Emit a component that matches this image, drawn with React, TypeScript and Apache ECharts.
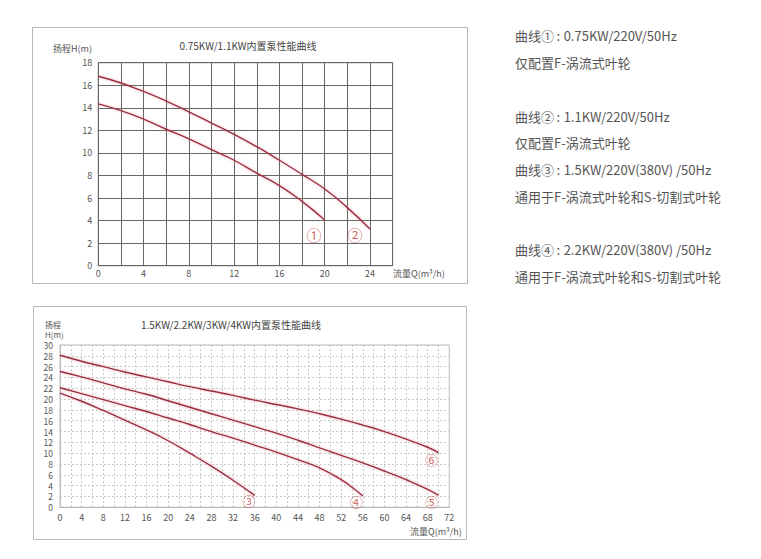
import React, { useEffect, useRef } from 'react';
import * as echarts from 'echarts';

// Chart 1 (0.75KW / 1.1KW)
const flow1 = [0, 2, 4, 6, 8, 10, 12, 14, 16, 18, 20];
const head1 = [14.35, 13.75, 13.0, 12.1, 11.25, 10.3, 9.35, 8.2, 7.1, 5.7, 4.05];
const flow2 = [0, 2, 4, 6, 8, 10, 12, 14, 16, 18, 20, 22, 24];
const head2 = [16.8, 16.2, 15.45, 14.6, 13.65, 12.65, 11.65, 10.55, 9.35, 8.1, 6.8, 5.15, 3.25];
const marks1 = [
  { name: '①', q: 19.05, h: 2.78 },
  { name: '②', q: 22.67, h: 2.78 },
];

// Chart 2 (1.5KW / 2.2KW / 3KW / 4KW)
const flow3 = [0, 4, 8, 12, 16, 20, 24, 28, 32, 36];
const head3 = [21.1, 19.6, 17.9, 16.1, 14.3, 12.3, 10.0, 7.6, 5.0, 2.2];
const flow4 = [0, 4, 8, 12, 16, 20, 24, 28, 32, 36, 40, 44, 48, 52, 54, 56];
const head4 = [22.1, 21.0, 19.9, 18.8, 17.7, 16.5, 15.3, 14.0, 12.8, 11.5, 10.2, 8.8, 7.3, 5.1, 3.7, 2.1];
const flow5 = [0, 4, 8, 12, 16, 20, 24, 28, 32, 36, 40, 44, 48, 52, 56, 60, 64, 68, 70];
const head5 = [25.1, 24.1, 23.0, 21.9, 20.9, 19.7, 18.5, 17.3, 16.1, 14.9, 13.7, 12.4, 11.0, 9.6, 8.2, 6.7, 5.1, 3.3, 2.2];
const flow6 = [0, 4, 8, 12, 16, 20, 24, 28, 32, 36, 40, 44, 48, 52, 56, 60, 64, 68, 70];
const head6 = [28.1, 27.0, 26.0, 25.0, 24.1, 23.2, 22.3, 21.5, 20.7, 19.8, 19.0, 18.2, 17.3, 16.3, 15.2, 14.0, 12.6, 11.1, 10.1];
const marks2 = [
  { name: '③', q: 34.9, h: 1.2 },
  { name: '④', q: 54.8, h: 1.0 },
  { name: '⑤', q: 68.7, h: 1.0 },
  { name: '⑥', q: 68.7, h: 8.9 },
];

// Tick settings
const xMax1 = 26, yMax1 = 18, step1 = 2;
const xMax2 = 72, yMax2 = 30, step2 = 2;

const title1 = '0.75KW/1.1KW内置泵性能曲线';
const title2 = '1.5KW/2.2KW/3KW/4KW内置泵性能曲线';
const C = '\u2009:\u2009\u200a';
const notes = [
  `曲线①${C}0.75KW/220V/50Hz`,
  '仅配置F-涡流式叶轮',
  `曲线②${C}1.1KW/220V/50Hz`,
  '仅配置F-涡流式叶轮',
  `曲线③${C}1.5KW/220V(380V) /50Hz`,
  '通用于F-涡流式叶轮和S-切割式叶轮',
  `曲线④${C}2.2KW/220V(380V) /50Hz`,
  '通用于F-涡流式叶轮和S-切割式叶轮',
];
const noteY = [35.7, 62.3, 116.7, 142.7, 169.3, 196, 249.3, 276];

const FONT = '"Noto Sans CJK SC", "Noto Sans", sans-serif';
const CURVE = '#9a2e40';
const MARK = '#c8413b';

function zip(xs: number[], ys: number[]) {
  return xs.map((x, i) => [x, ys[i]]);
}

function curve(xs: number[], ys: number[], idx: number) {
  return {
    type: 'line',
    xAxisIndex: idx,
    yAxisIndex: idx,
    data: zip(xs, ys),
    smooth: true,
    symbol: 'none',
    lineStyle: {
      color: CURVE,
      width: 1.4,
      shadowColor: 'rgba(225,110,130,0.55)',
      shadowBlur: 3,
    },
    z: 5,
  };
}

function markSeries(marks: { name: string; q: number; h: number }[], idx: number, size: number) {
  return {
    type: 'scatter',
    xAxisIndex: idx,
    yAxisIndex: idx,
    symbolSize: 2,
    itemStyle: { color: 'rgba(0,0,0,0)' },
    data: marks.map((m) => ({ name: m.name, value: [m.q, m.h] })),
    label: {
      show: true,
      position: 'inside',
      formatter: (p: any) => p.name,
      color: MARK,
      fontSize: size,
      fontFamily: FONT,
    },
    z: 6,
  };
}

export default function App() {
  const ref = useRef<HTMLDivElement>(null);

  useEffect(() => {
    if (!ref.current) return;
    const chart = echarts.init(ref.current, undefined, { renderer: 'svg' });

    const labelStyle = { color: '#555', fontSize: 9, fontFamily: FONT, lineHeight: 9 };
    const labelStyle2 = { color: '#555', fontSize: 8.5, fontFamily: FONT, lineHeight: 8 };

    const option: any = {
      animation: false,
      backgroundColor: '#fff',
      grid: [
        {
          left: 98.3, top: 62.7, width: 294.3, height: 203,
          show: true, borderColor: '#666', borderWidth: 1,
        },
        {
          left: 60, top: 345, width: 389.3, height: 162.3,
          show: true, borderColor: '#bdbdbd', borderWidth: 1,
        },
      ],
      xAxis: [
        {
          type: 'value', gridIndex: 0, min: 0, max: xMax1, interval: step1,
          axisLine: { show: true, lineStyle: { color: '#666', width: 1 } },
          axisTick: { show: false },
          splitLine: { show: true, lineStyle: { color: '#666', width: 1 } },
          axisLabel: {
            ...labelStyle, margin: 3,
            formatter: (v: number) => (v % 4 === 0 && v <= 24 ? String(v) : ''),
          },
        },
        {
          type: 'value', gridIndex: 1, min: 0, max: xMax2, interval: step2,
          axisLine: { show: true, lineStyle: { color: '#b0b0b0', width: 1 } },
          axisTick: { show: false },
          splitLine: { show: true, lineStyle: { color: '#c9c9c9', width: 1, type: [2, 2] } },
          axisLabel: {
            ...labelStyle, margin: 6,
            formatter: (v: number) => (v % 4 === 0 ? String(v) : ''),
          },
        },
      ],
      yAxis: [
        {
          type: 'value', gridIndex: 0, min: 0, max: yMax1, interval: step1,
          axisLine: { show: true, lineStyle: { color: '#666', width: 1 } },
          axisTick: { show: false },
          splitLine: { show: true, lineStyle: { color: '#666', width: 1 } },
          axisLabel: { ...labelStyle, margin: 6 },
        },
        {
          type: 'value', gridIndex: 1, min: 0, max: yMax2, interval: step2,
          axisLine: { show: true, lineStyle: { color: '#c0c0c0', width: 1 } },
          axisTick: { show: false },
          splitLine: { show: true, lineStyle: { color: '#c9c9c9', width: 1, type: [2, 2] } },
          axisLabel: { ...labelStyle2, margin: 7 },
        },
      ],
      series: [
        curve(flow1, head1, 0),
        curve(flow2, head2, 0),
        markSeries(marks1, 0, 15),
        curve(flow3, head3, 1),
        curve(flow4, head4, 1),
        curve(flow5, head5, 1),
        curve(flow6, head6, 1),
        markSeries(marks2, 1, 13),
      ],
      graphic: [
        {
          type: 'rect', shape: { x: 32.5, y: 27.5, width: 435, height: 256 },
          style: { fill: 'none', stroke: '#b8b8b8', lineWidth: 1 }, z: -1,
        },
        {
          type: 'rect', shape: { x: 33.5, y: 306.5, width: 433, height: 233 },
          style: { fill: 'none', stroke: '#b8b8b8', lineWidth: 1 }, z: -1,
        },
        {
          type: 'text', x: 248, y: 45.7,
          style: { text: title1, fill: '#444', font: `10px ${FONT}`, textAlign: 'center', textVerticalAlign: 'middle' },
        },
        {
          type: 'text', x: 231, y: 324,
          style: { text: title2, fill: '#444', font: `10px ${FONT}`, textAlign: 'center', textVerticalAlign: 'middle' },
        },
        {
          type: 'text', x: 53, y: 48,
          style: { text: '扬程H(m)', fill: '#555', font: `9px ${FONT}`, textVerticalAlign: 'middle' },
        },
        {
          type: 'text', x: 393, y: 273,
          style: { text: '流量Q(m³/h)', fill: '#555', font: `9px ${FONT}`, textVerticalAlign: 'middle' },
        },
        {
          type: 'text', x: 45, y: 329.5,
          style: { text: '扬程\nH(m)', fill: '#555', font: `8px ${FONT}`, lineHeight: 10, textVerticalAlign: 'middle' },
        },
        {
          type: 'text', x: 410, y: 531,
          style: { text: '流量Q(m³/h)', fill: '#555', font: `9px ${FONT}`, textVerticalAlign: 'middle' },
        },
        ...notes.map((t, i) => ({
          type: 'text', x: 515, y: noteY[i],
          style: { text: t, fill: '#555', font: `13px ${FONT}`, textVerticalAlign: 'middle' },
        })),
      ],
    };

    chart.setOption(option);
    return () => chart.dispose();
  }, []);

  return (
    <div
      ref={ref}
      style={{ position: 'absolute', left: 0, top: 0, width: 761, height: 559, background: '#fff' }}
    />
  );
}
